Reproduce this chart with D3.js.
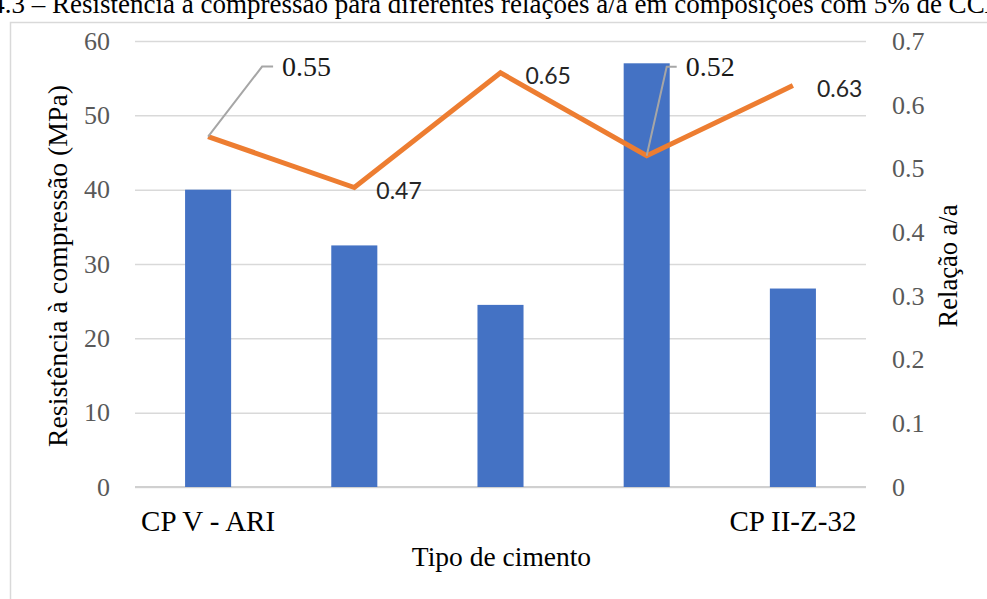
<!DOCTYPE html>
<html>
<head>
<meta charset="utf-8">
<script src="https://cdn.jsdelivr.net/npm/d3@7"></script>
<style>
  html, body { margin: 0; padding: 0; background: #fff; }
  svg { display: block; }
</style>
</head>
<body>
<svg id="chart" width="987" height="599"></svg>
<script>
// Cement types (only the first and last carry a printed name)
const categories = ["CP V - ARI", "", "", "", "CP II-Z-32"];
// Compressive strength, MPa (bars, left axis)
const strength = [40, 32.5, 24.5, 57, 26.7];
// Water/binder ratio (line, right axis)
const ratio = [0.55, 0.47, 0.65, 0.52, 0.63];
const leftTicks = [0, 10, 20, 30, 40, 50, 60];
const rightTicks = [0, 0.1, 0.2, 0.3, 0.4, 0.5, 0.6, 0.7];

const W = 987, H = 599;
const plot = { left: 135, right: 866, top: 41, bottom: 487 };
const serif = "'Liberation Serif', 'Times New Roman', serif";
const sans = "Lato, 'Open Sans', sans-serif";

const svg = d3.select("#chart");
svg.append("rect").attr("width", W).attr("height", H).attr("fill", "#fff");

// Figure caption, running past the page edges
svg.append("text")
  .attr("x", -86).attr("y", 13)
  .attr("font-family", serif).attr("font-size", 27).attr("fill", "#000")
  .text("Figura 4.3 – Resistência à compressão para diferentes relações a/a em composições com 5% de CCA");

// Chart frame
svg.append("rect")
  .attr("x", 10.5).attr("y", 22.5).attr("width", 1000).attr("height", 600)
  .attr("fill", "#fff").attr("stroke", "#d9d9d9").attr("stroke-width", 1.5);

const x = d3.scaleBand()
  .domain(d3.range(categories.length))
  .range([plot.left, plot.right])
  .paddingInner(0.685).paddingOuter(0.3425);
const yL = d3.scaleLinear().domain([0, 60]).range([plot.bottom, plot.top]);
const yR = d3.scaleLinear().domain([0, 0.7]).range([plot.bottom, plot.top]);

// Left axis with gridlines
const gL = svg.append("g")
  .attr("transform", `translate(${plot.left},0)`)
  .call(d3.axisLeft(yL).tickValues(leftTicks)
    .tickSize(-(plot.right - plot.left)).tickPadding(25)
    .tickFormat(d3.format("d")));
gL.select(".domain").remove();
gL.selectAll(".tick line").attr("stroke", "#d9d9d9").attr("stroke-width", 1.5);
gL.selectAll(".tick text")
  .attr("font-family", serif).attr("font-size", 26).attr("fill", "#595959");

// Baseline
svg.append("line")
  .attr("x1", plot.left).attr("x2", plot.right)
  .attr("y1", yL(0)).attr("y2", yL(0))
  .attr("stroke", "#d0d0d0").attr("stroke-width", 2);

// Right axis
const gR = svg.append("g")
  .attr("transform", `translate(${plot.right},0)`)
  .call(d3.axisRight(yR).tickValues(rightTicks).tickSize(0).tickPadding(26)
    .tickFormat(d => d === 0 ? "0" : d3.format(".1f")(d)));
gR.select(".domain").remove();
gR.selectAll(".tick text")
  .attr("font-family", serif).attr("font-size", 26).attr("fill", "#595959");

// Category labels
const gX = svg.append("g")
  .attr("transform", `translate(0,${plot.bottom})`)
  .call(d3.axisBottom(x).tickSize(0).tickPadding(23).tickFormat(i => categories[i]));
gX.select(".domain").remove();
gX.selectAll(".tick text")
  .attr("font-family", serif).attr("font-size", 29).attr("fill", "#000");

// Bars
svg.append("g").selectAll("rect")
  .data(strength)
  .join("rect")
  .attr("x", (d, i) => x(i))
  .attr("width", x.bandwidth())
  .attr("y", d => yL(d))
  .attr("height", d => yL(0) - yL(d))
  .attr("fill", "#4472c4");

// Ratio line
const cx = i => x(i) + x.bandwidth() / 2;
const line = d3.line().x((d, i) => cx(i)).y(d => yR(d));

// Label placement: leader lines for labels pulled away from their points
const labelLayout = [
  { leader: [54, -70], stub: 11, font: serif },
  { dx: 22, dy: 2, font: sans },
  { dx: 25, dy: 2, font: sans },
  { leader: [20, -89], stub: 10, font: serif },
  { dx: 24, dy: 2, font: sans }
];

const gLabels = svg.append("g");
ratio.forEach((v, i) => {
  const px = cx(i), py = yR(v), L = labelLayout[i];
  if (L.leader) {
    const ex = px + L.leader[0], ey = py + L.leader[1];
    gLabels.append("path")
      .attr("d", `M${px},${py}L${ex},${ey}L${ex + L.stub},${ey}`)
      .attr("fill", "none").attr("stroke", "#a6a6a6").attr("stroke-width", 2);
    gLabels.append("text")
      .attr("x", ex + L.stub + 9).attr("y", ey)
      .attr("dominant-baseline", "central")
      .attr("font-family", L.font).attr("font-size", 28).attr("fill", "#1a1a1a")
      .text(v.toFixed(2));
  }
});

svg.append("path")
  .datum(ratio)
  .attr("d", line)
  .attr("fill", "none")
  .attr("stroke", "#ed7d31")
  .attr("stroke-width", 5)
  .attr("stroke-linejoin", "miter");

ratio.forEach((v, i) => {
  const L = labelLayout[i];
  if (!L.leader) {
    gLabels.append("text")
      .attr("x", cx(i) + L.dx).attr("y", yR(v) + L.dy)
      .attr("dominant-baseline", "central")
      .attr("font-family", L.font).attr("font-size", 23).attr("fill", "#262626")
      .text(v.toFixed(2));
  }
});
gLabels.raise();

// Axis titles
svg.append("text")
  .attr("transform", `translate(67,${(plot.top + plot.bottom) / 2 + 2}) rotate(-90)`)
  .attr("text-anchor", "middle")
  .attr("font-family", serif).attr("font-size", 27.8).attr("fill", "#000")
  .text("Resistência à compressão (MPa)");

svg.append("text")
  .attr("transform", `translate(957,${(plot.top + plot.bottom) / 2 + 2}) rotate(-90)`)
  .attr("text-anchor", "middle")
  .attr("font-family", serif).attr("font-size", 26.5).attr("fill", "#000")
  .text("Relação a/a");

svg.append("text")
  .attr("x", (plot.left + plot.right) / 2 + 1).attr("y", 566)
  .attr("text-anchor", "middle")
  .attr("font-family", serif).attr("font-size", 27.5).attr("fill", "#000")
  .text("Tipo de cimento");
</script>
</body>
</html>
